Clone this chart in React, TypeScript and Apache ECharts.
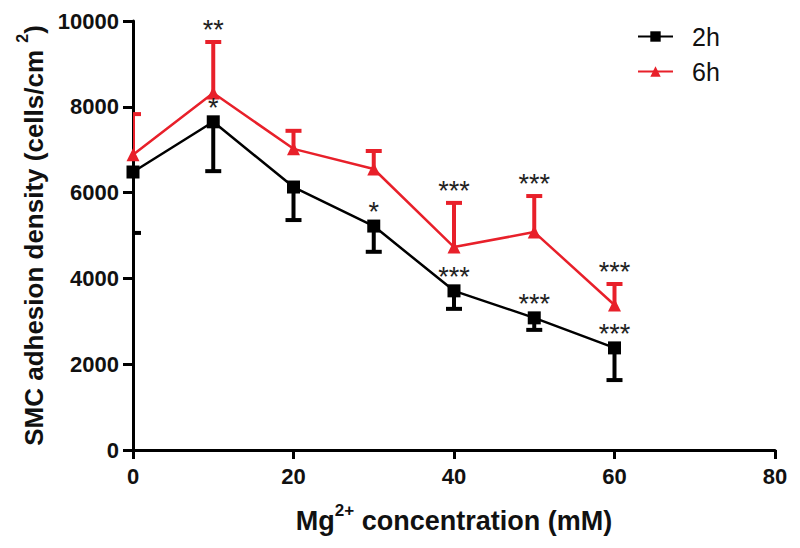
import React, { useEffect, useRef } from "react";
import * as echarts from "echarts";

const concentrations = [0, 10, 20, 30, 40, 50, 60];
const mean2h = [6480, 7650, 6130, 5220, 3710, 3080, 2380];
const lowerErr2h = [1420, 1150, 770, 600, 420, 280, 750];
const mean6h = [6880, 8320, 7020, 6550, 4730, 5080, 3380];
const upperErr6h = [950, 1190, 420, 420, 1030, 840, 490];
const sig2h = ["", "*", "", "*", "***", "***", "***"];
const sig6h = ["", "**", "", "", "***", "***", "***"];
const seriesNames = ["2h", "6h"];
const xMax = 80;
const xStep = 20;
const yMax = 10000;
const yStep = 2000;

const FONT = '"Liberation Sans", Arial, Helvetica, sans-serif';
const RED = "#e8202a";
const BLACK = "#000000";

const errorBarItem = (color: string, capHalf: number, lw: number) => (params: any, api: any) => {
  const x = api.value(0);
  const p1 = api.coord([x, api.value(1)]);
  const p2 = api.coord([x, api.value(2)]);
  return {
    type: "group",
    children: [
      { type: "line", shape: { x1: p1[0], y1: p1[1], x2: p2[0], y2: p2[1] }, style: { stroke: color, lineWidth: lw } },
      { type: "line", shape: { x1: p2[0] - capHalf, y1: p2[1], x2: p2[0] + capHalf, y2: p2[1] }, style: { stroke: color, lineWidth: lw } },
    ],
  };
};

const sigItem = (labels: string[], dy: number) => (params: any, api: any) => {
  const text = labels[params.dataIndex];
  if (!text) return { type: "group", children: [] };
  const p = api.coord([api.value(0), api.value(1)]);
  return {
    type: "text",
    x: p[0],
    y: p[1] - dy,
    style: { text, fill: "#222", fontSize: 27, fontFamily: FONT, align: "center", verticalAlign: "middle" },
  };
};

export default function App() {
  const ref = useRef<HTMLDivElement>(null);
  useEffect(() => {
    if (!ref.current) return;
    const chart = echarts.init(ref.current, undefined, { renderer: "svg" });
    const line2h = concentrations.map((c, i) => [c, mean2h[i]]);
    const line6h = concentrations.map((c, i) => [c, mean6h[i]]);
    const err2h = concentrations.map((c, i) => [c, mean2h[i], mean2h[i] - lowerErr2h[i]]);
    const err6h = concentrations.map((c, i) => [c, mean6h[i], mean6h[i] + upperErr6h[i]]);
    const sigAnchor2h = concentrations.map((c, i) => [c, mean2h[i]]);
    const sigAnchor6h = concentrations.map((c, i) => [c, mean6h[i] + upperErr6h[i]]);

    const nameStyle = (size: number) => ({ fontFamily: FONT, fontSize: size, fontWeight: "bold", color: "#111" });
    const richName = (size: number) => ({
      ...nameStyle(size),
      rich: {
        a: { ...nameStyle(size), lineHeight: 32, verticalAlign: "bottom" },
        sup: { ...nameStyle(Math.round(size * 0.62)), lineHeight: 32, verticalAlign: "top" },
      },
    });
    const tickLabel = {
      fontFamily: FONT,
      fontSize: 22,
      fontWeight: "bold",
      color: "#111",
      margin: 14,
      formatter: (v: number) => String(v),
    };
    chart.setOption({
      animation: false,
      backgroundColor: "#ffffff",
      grid: { left: 133, right: 25, top: 21, bottom: 98 },
      legend: {
        data: seriesNames,
        orient: "vertical",
        left: 632,
        top: 19,
        itemWidth: 35,
        itemHeight: 13,
        itemGap: 10,
        textStyle: { fontFamily: FONT, fontSize: 25, color: "#111", padding: [0, 0, 0, 14] },
      },
      xAxis: {
        type: "value",
        min: 0,
        max: xMax,
        interval: xStep,
        name: "{a|Mg}{sup|2+}{a| concentration (mM)}",
        nameLocation: "middle",
        nameGap: 52,
        nameTextStyle: richName(27),
        axisLine: { onZero: false, lineStyle: { color: BLACK, width: 3 } },
        axisTick: { length: 9, lineStyle: { color: BLACK, width: 3 } },
        axisLabel: { ...tickLabel, margin: 15 },
        splitLine: { show: false },
      },
      yAxis: {
        type: "value",
        min: 0,
        max: yMax,
        interval: yStep,
        name: "{a|SMC adhesion density (cells/cm }{sup|2}{a|)}",
        nameLocation: "middle",
        nameGap: 86,
        nameTextStyle: richName(26),
        axisLine: { onZero: false, lineStyle: { color: BLACK, width: 3 } },
        axisTick: { length: 10, lineStyle: { color: BLACK, width: 3 } },
        axisLabel: tickLabel,
        splitLine: { show: false },
      },
      series: [
        {
          name: "err2h",
          type: "custom",
          data: err2h,
          encode: { x: 0, y: [1, 2] },
          renderItem: errorBarItem(BLACK, 8, 4),
          clip: true,
          z: 2,
        },
        {
          name: "err6h",
          type: "custom",
          data: err6h,
          encode: { x: 0, y: [1, 2] },
          renderItem: errorBarItem(RED, 8, 4),
          clip: true,
          z: 2,
        },
        {
          name: seriesNames[0],
          type: "line",
          data: line2h,
          symbol: "rect",
          symbolSize: 13,
          lineStyle: { color: BLACK, width: 2.5 },
          itemStyle: { color: BLACK },
          z: 3,
        },
        {
          name: seriesNames[1],
          type: "line",
          data: line6h,
          symbol: "triangle",
          symbolSize: 13,
          lineStyle: { color: RED, width: 2.5 },
          itemStyle: { color: RED },
          z: 4,
        },
        {
          name: "sig2h",
          type: "custom",
          data: sigAnchor2h,
          encode: { x: 0, y: 1 },
          renderItem: sigItem(sig2h, 14),
          clip: false,
          z: 5,
        },
        {
          name: "sig6h",
          type: "custom",
          data: sigAnchor6h,
          encode: { x: 0, y: 1 },
          renderItem: sigItem(sig6h, 12),
          clip: false,
          z: 5,
        },
      ],
    });
    return () => chart.dispose();
  }, []);
  return <div ref={ref} style={{ width: 800, height: 548, margin: -8 }} />;
}
